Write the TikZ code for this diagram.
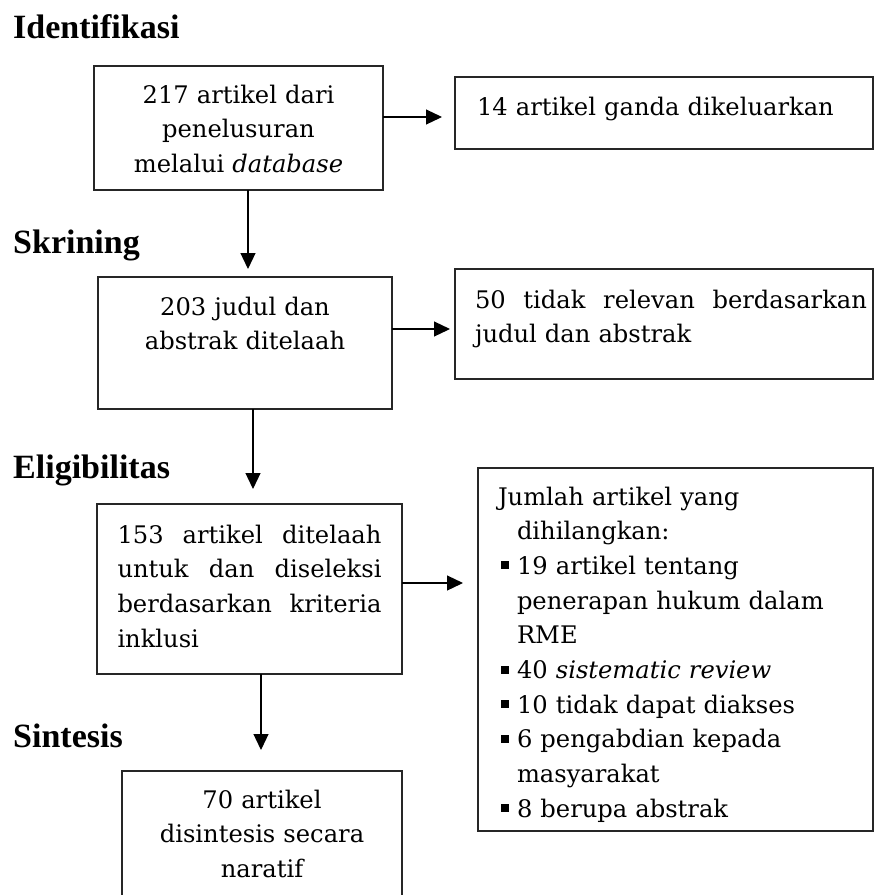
\documentclass[tikz,border=0pt]{standalone}
\usepackage{fontspec}
\setmainfont{DejaVu Serif}
\newfontfamily\headfont{Liberation Serif}
\usetikzlibrary{arrows.meta,calc}
\newcommand{\bodysize}{\fontsize{24.2pt}{34.7pt}\selectfont}
\newcommand{\listsq}{\hspace*{23pt}\makebox[16pt][l]{\rule[5pt]{8pt}{8pt}}}
\newcommand{\listgap}{\hspace*{39pt}}

\begin{document}
\begin{tikzpicture}[x=1pt,y=-1pt,>={Triangle[length=16pt,width=15pt]}]
  \tikzstyle{box}=[draw=black!85,line width=1.2pt,anchor=north west,outer sep=0pt,inner ysep=0pt,font={\parindent=0pt\bodysize}]
  \tikzstyle{head}=[anchor=base west,inner sep=0pt,font=\headfont\bfseries\fontsize{34pt}{40pt}\selectfont]
  \tikzstyle{link}=[->,draw=black,line width=1.2pt]
  \useasboundingbox (0,0) rectangle (875,895);
  \clip (0,0) rectangle (875,895);
  % stage titles
  \node[head] (hid) at (13,38) {Identifikasi};
  \node[head] (hscr) at (13,253) {Skrining};
  \node[head] (helig) at (13,478) {Eligibilitas};
  \node[head] (hsint) at (13,747) {Sintesis};
  % boxes
  \node[box,text width=269pt,inner xsep=10pt,align=center,text height=37pt,text depth=87pt] (id) at (94,66) {217 artikel dari\\penelusuran\\melalui \textit{database}};
  \node[box,text width=418pt,inner xsep=0pt,align=left,text height=38pt,text depth=34pt] (dup) at (455,77) {\hspace*{22pt}14 artikel ganda dikeluarkan};
  \node[box,text width=274pt,inner xsep=10pt,align=center,text height=38pt,text depth=94pt] (scr) at (98,277) {203 judul dan\\abstrak ditelaah};
  \node[box,text width=418pt,inner xsep=0pt,align=left,text height=39pt,text depth=71pt] (excl) at (455,269) {\hspace*{20pt}\makebox[392pt][s]{\spaceskip=0pt plus 30pt\relax 50 tidak relevan berdasarkan}\\
    \hspace*{20pt}judul dan abstrak};
  \node[box,text width=264pt,inner xsep=20.5pt,align=justify,text height=39pt,text depth=131pt] (elig) at (97,504) {153 artikel ditelaah\linebreak untuk dan diseleksi\linebreak berdasarkan kriteria\linebreak inklusi};
  \node[box,text width=395pt,inner xsep=0pt,align=left,text height=37pt,text depth=326pt] (lost) at (478,468) {\hspace*{20pt}Jumlah artikel yang\\
    \listgap dihilangkan:\\
    \listsq 19 artikel tentang\\
    \listgap penerapan hukum dalam\\
    \listgap RME\\
    \listsq 40 \textit{sistematic review}\\
    \listsq 10 tidak dapat diakses\\
    \listsq 6 pengabdian kepada\\
    \listgap masyarakat\\
    \listsq 8 berupa abstrak};
  \node[box,text width=260pt,inner xsep=10pt,align=center,text height=37pt,text depth=97pt] (sint) at (122,771) {70 artikel\\disintesis secara\\naratif};
  % connectors
  \draw[link,shorten >=8pt] ([xshift=9.5pt]id.south) -- ([xshift=9.5pt]id.south |- scr.north);
  \draw[link,shorten >=13pt] ([yshift=11pt]id.east) -- ([yshift=11pt]id.east -| dup.west);
  \draw[link,shorten >=5pt] ([yshift=14pt]scr.east) -- ([yshift=14pt]scr.east -| excl.west);
  \draw[link,shorten >=15pt] ([xshift=8pt]scr.south) -- ([xshift=8pt]scr.south |- elig.north);
  \draw[link,shorten >=15pt] ([yshift=6pt]elig.east) -- ([yshift=6pt]elig.east -| lost.west);
  \draw[link,shorten >=21pt] ([xshift=11.5pt]elig.south) -- ([xshift=11.5pt]elig.south |- sint.north);
\end{tikzpicture}
\end{document}
